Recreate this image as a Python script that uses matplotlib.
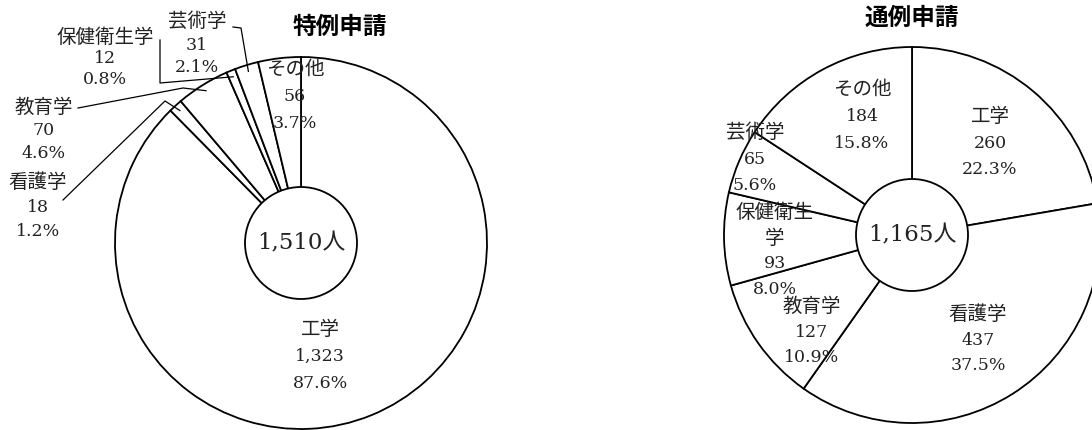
import numpy as np
import matplotlib.pyplot as plt
from matplotlib.patches import Circle

plt.rcParams['font.family'] = ['DejaVu Serif', 'Noto Sans CJK JP']

W, H = 1092, 430

# 分野別の申請者数（時計回り、12時の位置から）
categories = ['工学', '看護学', '教育学', '保健衛生学', '芸術学', 'その他']
tokurei_counts = [1323, 18, 70, 12, 31, 56]
tsurei_counts = [260, 437, 127, 93, 65, 184]
totals = [1510, 1165]
titles = ['特例申請', '通例申請']

# 配置（ピクセル座標、yは上から）
centers = [(301, 243), (912, 235)]
radii = [186, 188]
hole_r = 56
title_pos = [(340, 27), (912, 18)]
label_pos = [
    [(320, 330), (38, 183), (44, 108), (105, 38), (197, 22), (295, 70)],
    [(990, 117), (978, 315), (812, 307), (775, 213), (755, 133), (862, 90)],
]
line_gap = [
    [26.5, 24.5, 22.5, 20.5, 23, 26.5],
    [26, 25.5, 25.5, 25.5, 26, 26.5],
]
# 左図の引き出し線の折れ点
leader_pts = {
    1: [(63, 200), (165, 101)],
    2: [(78, 108), (183, 88)],
    3: [(160, 40), (160, 83)],
    4: [(233, 27), (241, 28)],
}

TEXT_C = '#222222'


def py(y):
    return H - y


fig = plt.figure(figsize=(W / 100, H / 100), dpi=100)
ax = fig.add_axes([0, 0, 1, 1])

for k, counts in enumerate([tokurei_counts, tsurei_counts]):
    cx, cy = centers[k]
    r = radii[k]
    ax.pie(counts, radius=r, center=(cx, py(cy)), startangle=90,
           counterclock=False,
           wedgeprops=dict(facecolor='white', edgecolor='black', linewidth=1.3))
    ax.add_patch(Circle((cx, py(cy)), hole_r, facecolor='white',
                        edgecolor='black', linewidth=1.3, zorder=5))
    ax.text(cx, py(cy), f'{totals[k]:,}人', ha='center', va='center',
            fontsize=16.5, color=TEXT_C, zorder=6)
    ax.text(title_pos[k][0], py(title_pos[k][1]), titles[k], ha='center',
            va='center', fontsize=17, fontweight='bold',
            family=['Noto Sans CJK JP'])

    for i, name in enumerate(categories):
        names = [name]
        if k == 1 and len(name) > 4:
            names = [name[:4], name[4:]]
        nums = [f'{counts[i]:,}', f'{counts[i] / totals[k] * 100:.1f}%']
        x0, y0 = label_pos[k][i]
        for j, s in enumerate(names + nums):
            size = 14 if j < len(names) else 12.5
            ax.text(x0, py(y0 + j * line_gap[k][i]), s, ha='center',
                    va='center', fontsize=size, color=TEXT_C, zorder=7)

# 引き出し線（小さい扇形の中点へ）
cum = np.cumsum([0] + tokurei_counts)
total_left = cum[-1]
cx, cy = centers[0]
for i, pts in leader_pts.items():
    mid = (cum[i] + tokurei_counts[i] / 2) / total_left
    phi = np.deg2rad(90 - 360 * mid)
    rr = radii[0] * 0.965
    end = (cx + rr * np.cos(phi), py(cy) + rr * np.sin(phi))
    xs = [p[0] for p in pts] + [end[0]]
    ys = [py(p[1]) for p in pts] + [end[1]]
    ax.plot(xs, ys, color='black', linewidth=0.9, zorder=8)

ax.set_xlim(0, W)
ax.set_ylim(0, H)
ax.set_aspect('equal')
ax.axis('off')

fig.savefig('out.png', dpi=100, facecolor='white')
